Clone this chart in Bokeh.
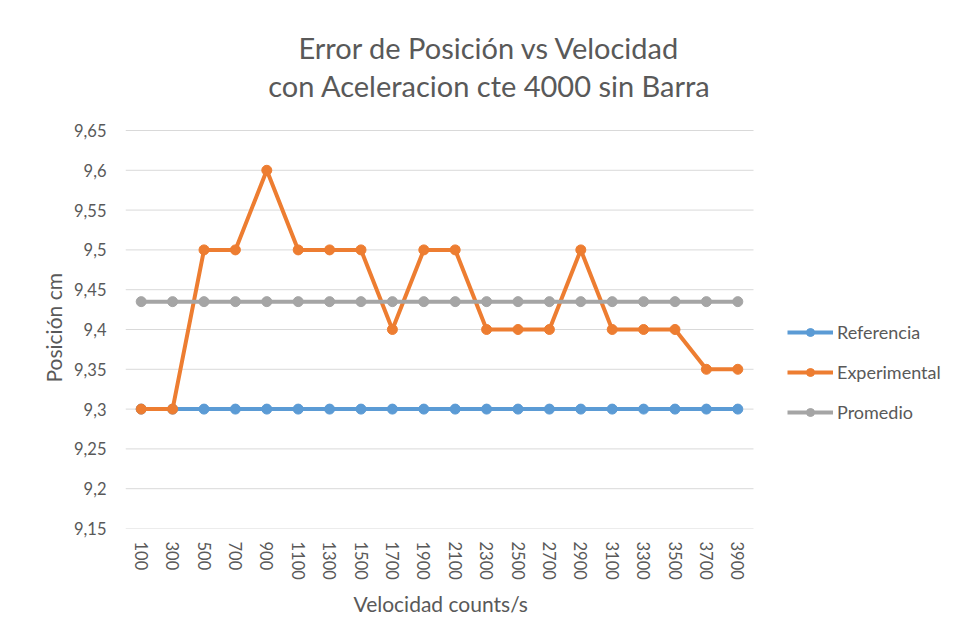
from bokeh.plotting import figure
from bokeh.models import (Range1d, FixedTicker, CustomJSTickFormatter,
                          Legend, LegendItem, Title, Label)
from bokeh.embed import file_html
from bokeh.resources import INLINE

categories = ["100", "300", "500", "700", "900", "1100", "1300", "1500", "1700", "1900",
              "2100", "2300", "2500", "2700", "2900", "3100", "3300", "3500", "3700", "3900"]
referencia = [9.3] * 20
experimental = [9.3, 9.3, 9.5, 9.5, 9.6, 9.5, 9.5, 9.5, 9.4, 9.5,
                9.5, 9.4, 9.4, 9.4, 9.5, 9.4, 9.4, 9.4, 9.35, 9.35]
promedio = [9.435] * 20
y_ticks = [9.15, 9.2, 9.25, 9.3, 9.35, 9.4, 9.45, 9.5, 9.55, 9.6, 9.65]
title_lines = ["Error de Posición vs Velocidad", "con Aceleracion cte 4000 sin Barra"]
x_title = "Velocidad counts/s"
y_title = "Posición cm"

FONT = "Lato"
TXT = "#595959"
GRID = "#d9d9d9"

n = len(categories)
xs = list(range(n))

# The frame covers the title and legend areas too; categories occupy the left 628 px
# and the value axis 9.15..9.65 occupies the lower 398 px.
p = figure(width=948, height=631, x_range=Range1d(-0.5, 25.71),
           y_range=Range1d(9.15, 9.8133), output_backend="svg", toolbar_location=None,
           min_border_left=125, min_border_right=0, min_border_top=0,
           min_border_bottom=103)
p.title = None
p.outline_line_color = None
p.background_fill_color = "white"
p.border_fill_color = "white"

for txt, ys in zip(title_lines, (481, 443)):
    p.add_layout(Label(x=364, y=ys, x_units="screen", y_units="screen", text=txt,
                       text_align="center", text_baseline="middle", text_font=FONT,
                       text_font_size="29px", text_color=TXT))

p.xgrid.grid_line_color = None
p.ygrid.grid_line_color = None

# horizontal gridlines limited to the category area
p.segment(x0=[-0.5] * len(y_ticks), x1=[n - 0.5] * len(y_ticks), y0=y_ticks, y1=y_ticks,
          line_color=GRID, line_width=1)

p.yaxis.ticker = FixedTicker(ticks=y_ticks)
p.yaxis.formatter = CustomJSTickFormatter(code="""
let s = tick.toFixed(2);
if (s.endsWith('0')) s = s.slice(0, -1);
return s.replace('.', ',');
""")
p.xaxis.ticker = FixedTicker(ticks=xs)
p.xaxis.formatter = CustomJSTickFormatter(args=dict(cats=categories), code="""
const i = Math.round(tick);
return (i >= 0 && i < cats.length) ? cats[i] : '';
""")
for ax in (p.xaxis, p.yaxis):
    ax.axis_line_color = None
    ax.major_tick_line_color = None
    ax.minor_tick_line_color = None
    ax.major_tick_out = 0
    ax.major_label_text_font = FONT
    ax.major_label_text_font_size = "16.5px"
    ax.major_label_text_color = TXT
p.xaxis.major_label_orientation = "vertical"
p.xaxis.major_label_standoff = 13
p.yaxis.major_label_standoff = 19

xt = Title(text=x_title, align="left", text_font=FONT, text_font_size="21px",
           text_color=TXT, text_font_style="normal", offset=228, standoff=12)
p.add_layout(xt, "below")
yt = Title(text=y_title, align="left", text_font=FONT, text_font_size="21px",
           text_color=TXT, text_font_style="normal", offset=146, standoff=12)
p.add_layout(yt, "left")

series = [("Referencia", referencia, "#5B9BD5"),
          ("Experimental", experimental, "#ED7D31"),
          ("Promedio", promedio, "#A5A5A5")]
rend = {}
for name, vals, col in series:
    l = p.line(xs, vals, line_color=col, line_width=4)
    s = p.scatter(xs, vals, size=10, fill_color=col, line_color=col)
    rend[name] = [l, s]

legend = Legend(items=[LegendItem(label=nm, renderers=rend[nm]) for nm, _, _ in series],
                location=(662, 105), padding=0, margin=0, spacing=18,
                glyph_width=46, glyph_height=20, label_height=20, label_standoff=4,
                label_text_font=FONT, label_text_font_size="18px", label_text_color=TXT,
                border_line_color=None, background_fill_alpha=0)
p.add_layout(legend, "center")

open("out.html", "w").write(file_html(p, INLINE))
